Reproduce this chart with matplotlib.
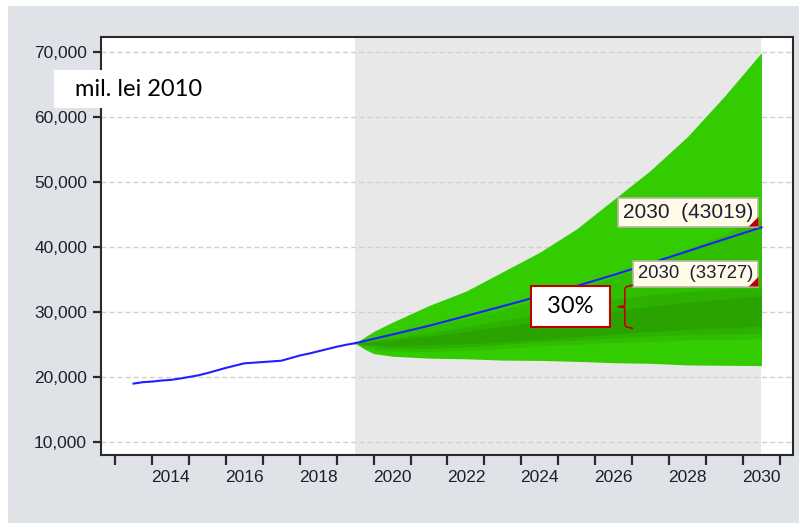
import matplotlib
matplotlib.use("Agg")
import matplotlib.pyplot as plt
from matplotlib.patches import Rectangle
from matplotlib.ticker import FuncFormatter
import pandas as pd

# historical series, quarterly, mil. lei 2010
hist_quarters = pd.period_range("2013Q3", "2019Q3", freq="Q")
hist_values = [18985, 19200, 19290, 19450, 19550, 19750, 20000, 20250, 20600,
               21000, 21400, 21750, 22100, 22200, 22300, 22400, 22500, 22900,
               23300, 23600, 23950, 24300, 24650, 24950, 25200]

# forecast period (year fractions) and fan chart edges
fc_x = [2019.5, 2019.75, 2020.0, 2020.5, 2021.5, 2022.5, 2023.5, 2024.5,
        2025.5, 2026.5, 2027.5, 2028.5, 2029.5, 2030.5]
central = [25200, 25520, 25870, 26530, 27880, 29380, 30900, 32450, 34000,
           35700, 37500, 39350, 41200, 43019]
upper1 = [25200, 26100, 27000, 28400, 31000, 33200, 36200, 39200, 42800,
          47300, 51800, 57000, 63200, 69900]
lower1 = [25200, 24300, 23600, 23200, 22900, 22800, 22600, 22550, 22400,
          22200, 22100, 21850, 21800, 21750]
upper2 = [25200, 25550, 25900, 26500, 27700, 29000, 30400, 31900, 33500,
          35400, 37400, 39600, 42000, 44500]
lower2 = [25200, 24600, 24200, 23900, 23900, 24100, 24400, 24800, 25000,
          25300, 25500, 25700, 25800, 25900]
upper3 = [25200, 25350, 25550, 25950, 26800, 27700, 28700, 29800, 30900,
          31900, 32700, 33200, 33500, 33727]
lower3 = [25200, 24850, 24600, 24400, 24400, 24600, 25000, 25400, 25700,
          26000, 26300, 26500, 26600, 26700]
upper4 = [25200, 25250, 25400, 25700, 26300, 27000, 27800, 28600, 29400,
          30200, 30900, 31500, 32000, 32500]
lower4 = [25200, 25050, 24950, 24800, 24900, 25100, 25400, 25800, 26200,
          26600, 27000, 27300, 27600, 27800]

# 30% bracket range
bracket_x = 2026.8
bracket_lo, bracket_hi = 27500, 34100

label_years = [2014, 2016, 2018, 2020, 2022, 2024, 2026, 2028, 2030]
y_ticks = [10000, 20000, 30000, 40000, 50000, 60000, 70000]

W, H = 799, 523
fig = plt.figure(figsize=(W / 100, H / 100), dpi=100)
fig.patch.set_facecolor("white")
fig.patches.append(Rectangle((8 / W, 0), 1 - 8 / W, 1 - 6 / H,
                             transform=fig.transFigure, fc="#dfe3e8",
                             ec="none", zorder=-1))

ax = fig.add_axes([101 / W, 1 - 455 / H, (793 - 101) / W, (455 - 37) / H])
ax.set_facecolor("white")

# forecast shading + grid
ax.axvspan(fc_x[0], fc_x[-1], color="#e8e8e8", lw=0, zorder=0.2)
ax.set_axisbelow(True)
ax.yaxis.grid(True, color="#cfcfcf", lw=1, ls=(0, (3.6, 2.2)))

# fan chart, outer to inner
bands = [(lower1, upper1, "#33cc00"), (lower2, upper2, "#30bf00"),
         (lower3, upper3, "#2db100"), (lower4, upper4, "#2aa300")]
for lo, hi, c in bands:
    ax.fill_between(fc_x, lo, hi, color=c, lw=0, zorder=1)

hist_x = [p.year + (p.quarter - 1) / 4 for p in hist_quarters]
ax.plot(hist_x, hist_values, color="#2020ff", lw=1.5, zorder=3)
ax.plot(fc_x, central, color="#2020ff", lw=1.5, zorder=3)

ax.set_xlim(2012.62, 2031.354)
ax.set_ylim(8000, 72300)

ax.set_xticks(list(range(2013, 2032)))
ax.set_xticklabels([])
ax.set_xticks([y + 0.5 for y in label_years], minor=True)
ax.set_xticklabels([str(y) for y in label_years], minor=True)
ax.set_yticks(y_ticks)
ax.yaxis.set_major_formatter(FuncFormatter(lambda v, p: f"{v:,.0f}"))

for lab in ax.get_xticklabels(minor=True) + ax.get_yticklabels():
    lab.set_fontfamily("Liberation Sans")
    lab.set_fontsize(12.5)
    lab.set_color("#1e1e30")

ax.tick_params(axis="x", which="major", length=7, width=1.6, color="#2a2a2a")
ax.tick_params(axis="x", which="minor", length=0, pad=11)
ax.tick_params(axis="y", length=6, width=1.6, color="#2a2a2a", pad=4)
for s in ax.spines.values():
    s.set_color("#2a2a2a")
    s.set_linewidth(1.5)

# value labels at the end of the forecast
end_labels = [(central[-1], "2030  (43019)", 15), (upper3[-1], "2030  (33727)", 13.3)]
for val, txt, fs in end_labels:
    ax.annotate(txt, xy=(fc_x[-1], val), xytext=(-6, 4), textcoords="offset points",
                ha="right", va="bottom", fontsize=fs, family="Liberation Sans",
                color="#1c1c3c", zorder=6,
                bbox=dict(boxstyle="square,pad=0.25", fc="#fffbe6",
                          ec="#b4b4a8", lw=1.2))
    ax.plot(fc_x[-1] - 0.08, val + 250, marker=[(0, 0), (0, 1), (-1, 0)],
            ms=14, color="#c00000", mec="none", zorder=7, clip_on=False)

# 30% box and bracket
ax.text(2025.33, 30870, " 30% ", ha="center", va="center", fontsize=17,
        family="Lato", color="black", zorder=6,
        bbox=dict(boxstyle="square,pad=0.42", fc="white", ec="#c00000", lw=1.5))
bx = [bracket_x + 0.2, bracket_x + 0.03, bracket_x, bracket_x,
      bracket_x - 0.18, bracket_x, bracket_x, bracket_x + 0.03, bracket_x + 0.2]
mid = (bracket_lo + bracket_hi) / 2
by = [bracket_hi, bracket_hi - 250, bracket_hi - 600, mid + 150, mid,
      mid - 150, bracket_lo + 600, bracket_lo + 250, bracket_lo]
ax.plot(bx, by, color="#c00000", lw=1.2, zorder=6)

# unit label
fig.patches.append(Rectangle((54 / W, 1 - 108 / H), (215 - 54) / W, 38 / H,
                             transform=fig.transFigure, fc="white", ec="none",
                             zorder=5))
fig.text(75 / W, 1 - 89 / H, "mil. lei 2010", ha="left", va="center",
         fontsize=17, family="Lato", color="black", zorder=6)

fig.savefig("out.png", dpi=100)
